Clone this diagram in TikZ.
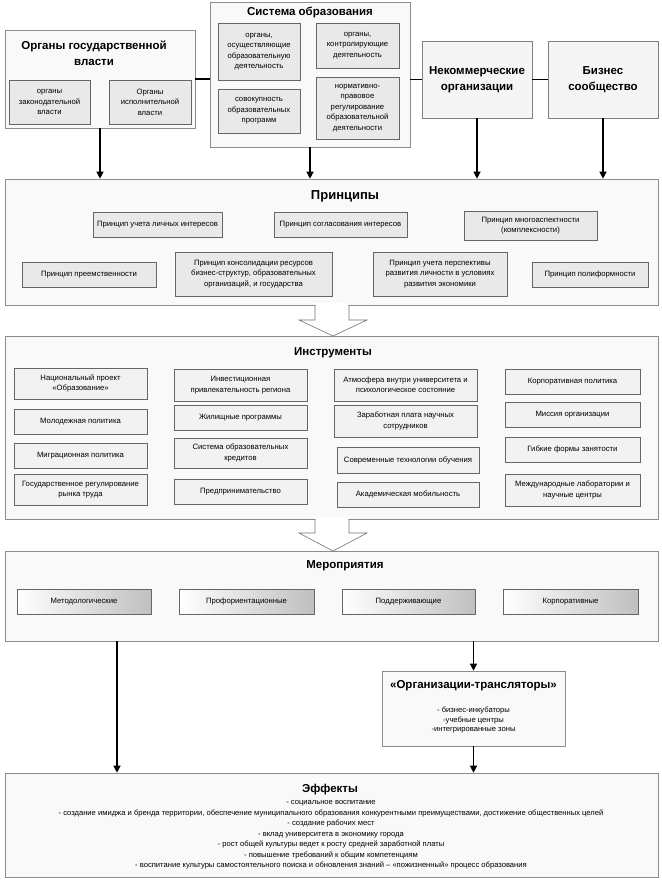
\documentclass[tikz,border=0pt]{standalone}
\usepackage{fontspec}
\setmainfont{Liberation Sans}
\usetikzlibrary{arrows.meta,calc}
\newcommand{\smf}{\fontsize{7.7}{10.4}\selectfont}
\newcommand{\effont}{\fontsize{7.6}{10.5}\selectfont}
\newcommand{\ttl}{\fontsize{12}{15}\selectfont\bfseries}
\newcommand{\ttp}{\fontsize{13}{15}\selectfont\bfseries}
\newcommand{\ttm}{\fontsize{11.5}{16}\selectfont\bfseries}
\newcommand{\tts}{\fontsize{11.5}{13}\selectfont\bfseries}
\newcommand{\bx}[7]{%
  \pgfmathsetmacro{\bw}{#4-#2}\pgfmathsetmacro{\bh}{#5-#3}%
  \node[#6, minimum width=\bw pt, minimum height=\bh pt] (#1) at ({(#2+#4)/2},{(#3+#5)/2}) {#7};}
\begin{document}
\begin{tikzpicture}[x=1pt,y=-1pt,
  outer/.style={draw=black!45, fill=gray!5, line width=0.6pt, inner sep=0pt},
  topbox/.style={draw=black!50, fill=gray!8, line width=0.6pt, inner sep=0pt, align=center, font=\ttm},
  inbox/.style={draw=black!60, fill=gray!17, line width=0.6pt, inner sep=1pt, align=center, font=\smf},
  insbox/.style={draw=black!60, fill=gray!10, line width=0.6pt, inner sep=1pt, align=center, font=\smf},
  grbox/.style={draw=black!60, left color=white, right color=gray!50, line width=0.6pt, inner sep=1pt, align=center, font=\smf},
  conn/.style={draw=black, line width=1.2pt},
  arr/.style={conn, -{Triangle[length=7pt,width=7pt]}},
  hollow/.style={draw=black!55, line width=0.6pt}
]
\useasboundingbox (0,0) rectangle (661,880);
\fill[white] (0,0) rectangle (661,880);

% ---- top row ----
\bx{org}{5}{30}{195}{128}{outer}{}
\node[font=\fontsize{11.5}{16}\selectfont\bfseries, align=center] (orgt) at (94,53) {Органы государственной\\власти};
\bx{zak}{9}{80}{90}{124}{inbox}{органы\\законодательной\\власти}
\bx{isp}{109}{80}{191}{124}{inbox}{Органы\\исполнительной\\власти}

\bx{sys}{210}{2}{410}{147}{outer}{}
\node[font=\ttm] (syst) at (310,12) {Система образования};
\bx{osu}{218}{23}{300}{80}{inbox}{органы,\\осуществляющие\\образовательную\\деятельность}
\bx{sov}{218}{89}{300}{133}{inbox}{совокупность\\образовательных\\программ}
\bx{kon}{316}{23}{399}{68}{inbox}{органы,\\контролирующие\\деятельность}
\bx{nor}{316}{77}{399}{139}{inbox}{нормативно-\\правовое\\регулирование\\образовательной\\деятельности}

\bx{nko}{422}{41}{532}{118}{topbox}{Некоммерческие\\организации}
\bx{biz}{548}{41}{658}{118}{topbox}{Бизнес\\сообщество}

\draw[conn] (org.east) -- (org.east -| sys.west);
\draw[conn] (nko.west) -- (nko.west -| sys.east);
\draw[conn] (nko.east) -- (biz.west);

% ---- principles ----
\bx{prin}{5}{179}{658}{305}{outer}{}
\node[font=\ttp] (print) at (345,196) {Принципы};
\bx{p1}{93}{212}{222}{237}{inbox}{Принцип учета личных интересов}
\bx{p2}{274}{212}{407}{237}{inbox}{Принцип согласования интересов}
\bx{p3}{464}{211}{597}{240}{inbox}{Принцип многоаспектности\\(комплексности)}
\bx{p4}{22}{262}{156}{287}{inbox}{Принцип преемственности}
\bx{p5}{175}{252}{332}{296}{inbox}{Принцип консолидации ресурсов\\бизнес-структур, образовательных\\организаций, и государства}
\bx{p6}{373}{252}{507}{296}{inbox}{Принцип учета перспективы\\развития личности в условиях\\развития экономики}
\bx{p7}{532}{262}{648}{287}{inbox}{Принцип полиформности}

\draw[arr] (org.south) -- (org.south |- prin.north);
\draw[arr] (sys.south) -- (sys.south |- prin.north);
\draw[arr] (nko.south) -- (nko.south |- prin.north);
\draw[arr] (biz.south) -- (biz.south |- prin.north);

% ---- instruments ----
\bx{ins}{5}{336}{658}{519}{outer}{}
\node[font=\tts] (inst) at (333,353) {Инструменты};
\bx{i1}{14}{368}{147}{399}{insbox}{Национальный проект\\«Образование»}
\bx{i2}{14}{409}{147}{434}{insbox}{Молодежная политика}
\bx{i3}{14}{443}{147}{468}{insbox}{Миграционная политика}
\bx{i4}{14}{474}{147}{505}{insbox}{Государственное регулирование\\рынка труда}
\bx{i5}{174}{369}{307}{401}{insbox}{Инвестиционная\\привлекательность региона}
\bx{i6}{174}{405}{307}{430}{insbox}{Жилищные программы}
\bx{i7}{174}{438}{307}{468}{insbox}{Система образовательных\\кредитов}
\bx{i8}{174}{479}{307}{504}{insbox}{Предпринимательство}
\bx{i9}{334}{369}{477}{401}{insbox}{Атмосфера внутри университета и\\психологическое состояние}
\bx{i10}{334}{405}{477}{437}{insbox}{Заработная плата научных\\сотрудников}
\bx{i11}{337}{447}{479}{473}{insbox}{Современные технологии обучения}
\bx{i12}{337}{482}{479}{507}{insbox}{Академическая мобильность}
\bx{i13}{505}{369}{640}{394}{insbox}{Корпоративная политика}
\bx{i14}{505}{402}{640}{427}{insbox}{Миссия организации}
\bx{i15}{505}{437}{640}{462}{insbox}{Гибкие формы занятости}
\bx{i16}{505}{474}{640}{506}{insbox}{Международные лаборатории и\\научные центры}

% hollow arrow principles -> instruments
\fill[white] (315.3,303) -- (315.3,320) -- (299,320) -- (333,336) -- (367,320) -- (348.7,320) -- (348.7,303) -- cycle;
\draw[hollow] (315,305) -- (315,320) -- (299,320) -- (333,336) -- (367,320) -- (349,320) -- (349,305);

% ---- measures ----
\bx{mer}{5}{551}{658}{641}{outer}{}
\node[font=\tts] (mert) at (345,566) {Мероприятия};
\bx{m1}{17}{589}{151}{614}{grbox}{Методологические}
\bx{m2}{179}{589}{314}{614}{grbox}{Профориентационные}
\bx{m3}{342}{589}{475}{614}{grbox}{Поддерживающие}
\bx{m4}{503}{589}{638}{614}{grbox}{Корпоративные}

% hollow arrow instruments -> measures
\fill[white] (315.3,517) -- (315.3,533) -- (299,533) -- (333,551) -- (367,533) -- (348.7,533) -- (348.7,517) -- cycle;
\draw[hollow] (315,519) -- (315,533) -- (299,533) -- (333,551) -- (367,533) -- (349,533) -- (349,519);

% ---- translators ----
\bx{trans}{382}{671}{565}{746}{outer}{}
\node[font=\tts] (transt) at (473.5,686) {«Организации-трансляторы»};
\node[font=\fontsize{7.6}{9.3}\selectfont, align=center] (transl) at (473.5,720) {- бизнес-инкубаторы\\-учебные центры\\-интегрированные зоны};

% ---- effects ----
\bx{eff}{5}{773}{658}{877}{outer}{}
\node[font=\fontsize{11.5}{14}\selectfont\bfseries] (efft) at (330,790) {Эффекты};
\node[font=\effont, align=center] (effl) at (331,835) {- социальное воспитание\\
- создание имиджа и бренда территории, обеспечение муниципального образования конкурентными преимуществами, достижение общественных целей\\
- создание рабочих мест\\
- вклад университета в экономику города\\
- рост общей культуры ведет к росту средней заработной платы\\
- повышение требований к общим компетенциям\\
- воспитание культуры самостоятельного поиска и обновления знаний – «пожизненный» процесс образования};

\coordinate (lx) at (117,0);
\draw[arr] (mer.south -| lx) -- (eff.north -| lx);
\draw[arr] (mer.south -| trans.north) -- (trans.north);
\draw[arr] (trans.south) -- (trans.south |- eff.north);
\end{tikzpicture}
\end{document}
